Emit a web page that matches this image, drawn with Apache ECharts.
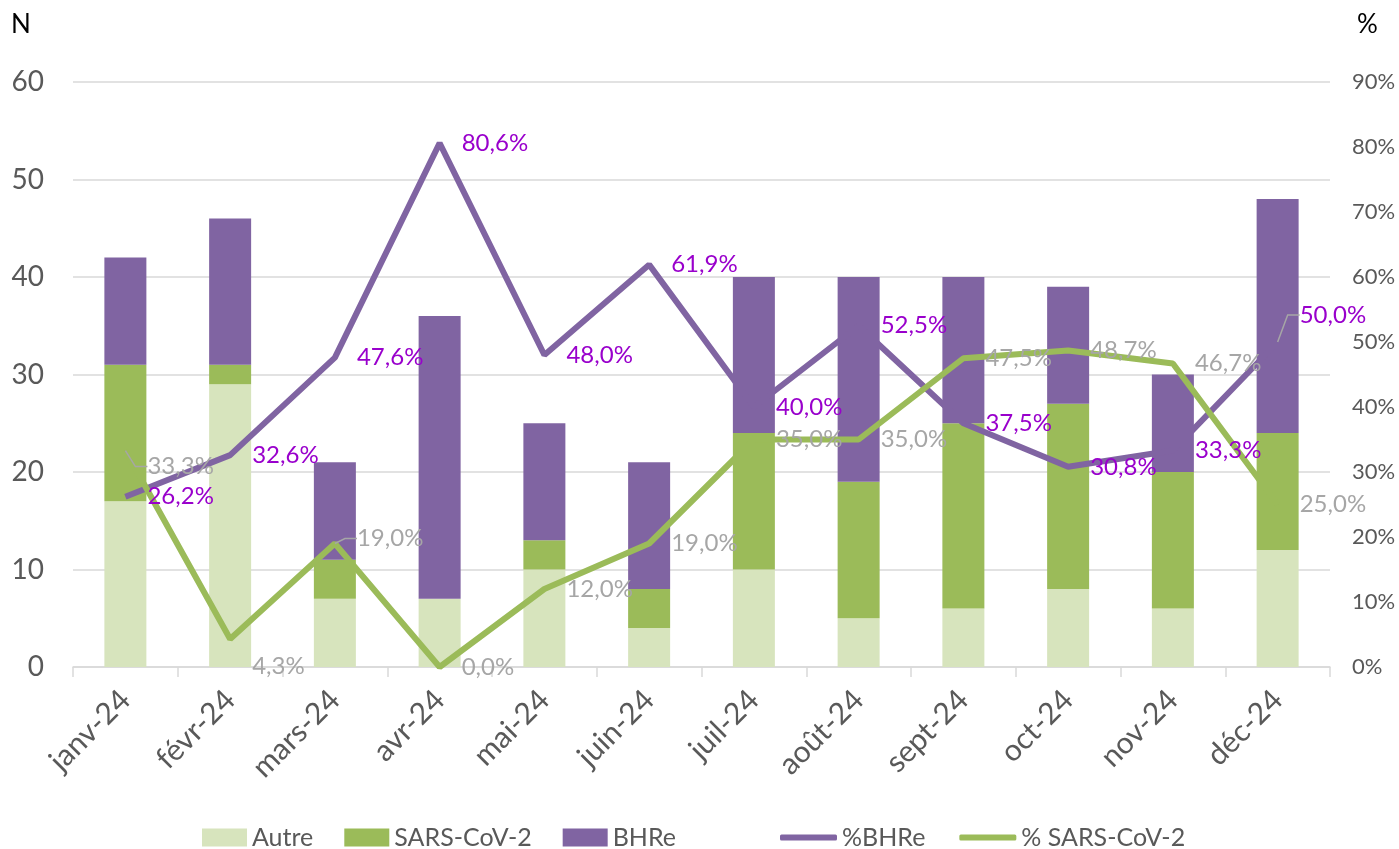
<!DOCTYPE html>
<html>
<head>
<meta charset="utf-8">
<script src="https://cdn.jsdelivr.net/npm/echarts@6/dist/echarts.min.js"></script>
<style>html,body{margin:0;padding:0;background:#fff}#c{width:1399px;height:849px}</style>
</head>
<body>
<div id="c"></div>
<script>
const categories = ['janv-24','févr-24','mars-24','avr-24','mai-24','juin-24','juil-24','août-24','sept-24','oct-24','nov-24','déc-24'];
const autre = [17, 29, 7, 7, 10, 4, 10, 5, 6, 8, 6, 12];
const sars = [14, 2, 4, 0, 3, 4, 14, 14, 19, 19, 14, 12];
const bhre = [11, 15, 10, 29, 12, 13, 16, 21, 15, 12, 10, 24];
const pctBhre = [26.2, 32.6, 47.6, 80.6, 48.0, 61.9, 40.0, 52.5, 37.5, 30.8, 33.3, 50.0];
const pctSars = [33.3, 4.3, 19.0, 0.0, 12.0, 19.0, 35.0, 35.0, 47.5, 48.7, 46.7, 25.0];
const leftTicks = [0, 10, 20, 30, 40, 50, 60];
const rightTicks = [0, 10, 20, 30, 40, 50, 60, 70, 80, 90];

const FONT = 'Lato';
const fmtPct = v => v.toFixed(1).replace('.', ',') + '%';
// label nudges and leader lines (style, not data)
const bhreDy = {11: -27};
const sarsDy = {0: 16, 1: 27, 2: -5};
const bhreLeader = [11];
const sarsLeader = [0, 2];
const leader = {show: true, length: 0, length2: 12, lineStyle: {color: '#a6a6a6', width: 1.5}};

function lineData(vals, leaders) {
  return vals.map((v, i) => leaders.indexOf(i) >= 0 ? {value: v, labelLine: leader} : {value: v});
}

const legendText = {fontFamily: FONT, fontSize: 25, color: '#595959'};

const chart = echarts.init(document.getElementById('c'), null, {renderer: 'canvas'});
chart.setOption({
  animation: false,
  textStyle: {fontFamily: FONT},
  grid: {left: 73, right: 69, top: 82, bottom: 182, containLabel: false},
  graphic: [
    {type: 'text', left: 11, top: 12, style: {text: 'N', font: '26px ' + FONT, fill: '#000'}},
    {type: 'text', left: 1357, top: 12, style: {text: '%', font: '26px ' + FONT, fill: '#000'}}
  ],
  legend: [
    {
      left: 197, top: 820,
      itemWidth: 45, itemHeight: 18, itemGap: 31,
      icon: 'rect',
      textStyle: legendText,
      data: ['Autre', 'SARS-CoV-2', 'BHRe']
    },
    {
      left: 775, top: 820,
      itemWidth: 57, itemHeight: 6, itemGap: 34,
      icon: 'roundRect',
      textStyle: legendText,
      data: ['%BHRe', '% SARS-CoV-2']
    }
  ],
  xAxis: {
    type: 'category',
    data: categories,
    boundaryGap: true,
    axisLine: {lineStyle: {color: '#d9d9d9', width: 1.5}},
    axisTick: {show: true, length: 10, lineStyle: {color: '#d9d9d9', width: 1.5}},
    axisLabel: {rotate: 45, fontFamily: FONT, fontSize: 30, color: '#595959', margin: 28, interval: 0}
  },
  yAxis: [
    {
      type: 'value', min: leftTicks[0], max: leftTicks[leftTicks.length - 1], interval: 10,
      axisLine: {show: false}, axisTick: {show: false},
      axisLabel: {fontFamily: FONT, fontSize: 28, color: '#595959', margin: 29},
      splitLine: {lineStyle: {color: '#d9d9d9', width: 1.5}}
    },
    {
      type: 'value', min: rightTicks[0], max: rightTicks[rightTicks.length - 1], interval: 10,
      position: 'right',
      axisLine: {show: false}, axisTick: {show: false},
      axisLabel: {fontFamily: FONT, fontSize: 22, color: '#595959', margin: 22, formatter: '{value}%'},
      splitLine: {show: false}
    }
  ],
  series: [
    {name: 'Autre', type: 'bar', stack: 'n', barWidth: 42, data: autre, itemStyle: {color: '#d7e4bd'}},
    {name: 'SARS-CoV-2', type: 'bar', stack: 'n', barWidth: 42, data: sars, itemStyle: {color: '#9bbb59'}},
    {name: 'BHRe', type: 'bar', stack: 'n', barWidth: 42, data: bhre, itemStyle: {color: '#8064a2'}},
    {
      name: '%BHRe', type: 'line', yAxisIndex: 1, data: lineData(pctBhre, bhreLeader),
      symbol: 'circle', symbolSize: 0.1, showSymbol: true,
      lineStyle: {color: '#8064a2', width: 6}, itemStyle: {color: '#8064a2'},
      label: {show: true, position: 'right', distance: 22, fontFamily: FONT, fontSize: 24, color: '#9900cc', formatter: p => fmtPct(p.value)},
      labelLayout: p => (bhreDy[p.dataIndex] !== undefined ? {dy: bhreDy[p.dataIndex]} : {}),
      labelLine: {show: false},
      z: 3
    },
    {
      name: '% SARS-CoV-2', type: 'line', yAxisIndex: 1, data: lineData(pctSars, sarsLeader),
      symbol: 'circle', symbolSize: 0.1, showSymbol: true,
      lineStyle: {color: '#9bbb59', width: 6}, itemStyle: {color: '#9bbb59'},
      label: {show: true, position: 'right', distance: 22, fontFamily: FONT, fontSize: 24, color: '#a6a6a6', formatter: p => fmtPct(p.value)},
      labelLayout: p => (sarsDy[p.dataIndex] !== undefined ? {dy: sarsDy[p.dataIndex]} : {}),
      labelLine: {show: false},
      z: 3
    }
  ]
});
</script>
</body>
</html>
